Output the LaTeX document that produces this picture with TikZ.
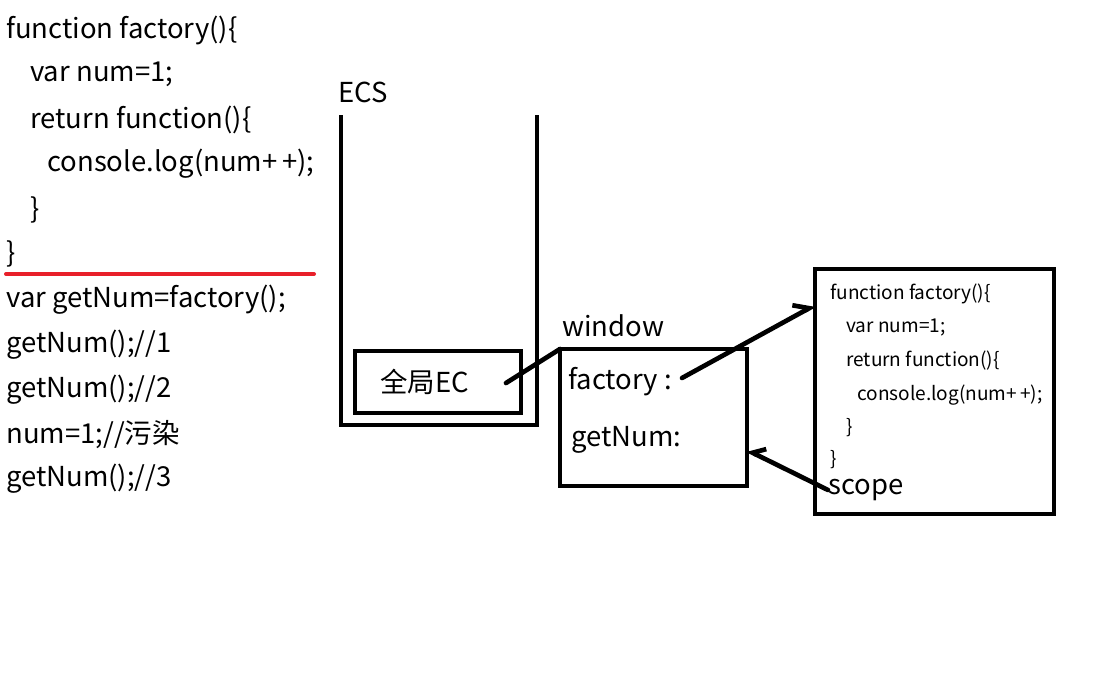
\documentclass[tikz,border=0pt]{standalone}
\usepackage{fontspec}
\setmainfont{Noto Sans CJK SC}
\usetikzlibrary{arrows.meta}

\definecolor{cutred}{RGB}{232,32,42}

\tikzset{
  code/.style={anchor=west, inner sep=0pt, font=\fontsize{20.6}{24}\selectfont},
  small/.style={anchor=west, inner sep=0pt, font=\fontsize{14.3}{16}\selectfont},
  box/.style={draw, line width=3.5pt, anchor=north west, inner sep=0pt, outer sep=0pt},
  link/.style={line width=3.5pt, line cap=round},
}

\begin{document}
\begin{tikzpicture}[x=0.75pt, y=-0.75pt]
        \useasboundingbox (0,0) rectangle (1102,682);
        % source code on the left
        \node[code] (c1) at (6,30)   {function factory()\{};
        \node[code] (c2) at (30,74)  {var num=1;};
        \node[code] (c3) at (30,120) {return function()\{};
        \node[code] (c4) at (47,164) {console.log(num+\,+);};
        \node[code] (c5) at (30,210) {\}};
        \node[code] (c6) at (6,254)  {\}};
        \draw[cutred, line width=3pt, line cap=round] (6,274) -- (314,274);   % divider
        \node[code] (d1) at (6,300) {var getNum=factory();};
        \node[code] (d2) at (6,345) {getNum();//1};
        \node[code] (d3) at (6,390) {getNum();//2};
        \node[code] (d4) at (6,435) {num=1;//污染};
        \node[code] (d5) at (6,479) {getNum();//3};
        % execution context stack
        \node[code] (ecs) at (338,92) {ECS};
        \draw[line width=3.5pt] (341,115) -- (341,425) -- (537,425) -- (537,115);
        \node[box, minimum width=166*0.75pt, minimum height=62*0.75pt] (ec) at (355,351) {};
        \node[code] (ectxt) at (380,382) {全局EC};
        % window object
        \node[code] (win) at (562,326) {window};
        \node[box, minimum width=187*0.75pt, minimum height=137*0.75pt] (winbox) at (560,349) {};
        \node[code] (fac) at (568,382) {factory :};
        \node[code] (gn) at (571,440) {getNum:};
        % function object
        \node[box, minimum width=239*0.75pt, minimum height=245*0.75pt] (fbox) at (815,269) {};
        \node[small] (f1) at (830,294) {function factory()\{};
        \node[small] (f2) at (846,328) {var num=1;};
        \node[small] (f3) at (846,361) {return function()\{};
        \node[small] (f4) at (857,395) {console.log(num+\,+);};
        \node[small] (f5) at (846,428) {\}};
        \node[small] (f6) at (830,460) {\}};
        \node[code] (scope) at (828,490) {scope};
        % references
        \coordinate (ecend) at (506,383);
        \coordinate (facend) at (682,378);
        \coordinate (fin) at (fbox.north west |- 0,305);
        \coordinate (win_in) at (winbox.north east |- 0,450);
        \draw[link] (ecend) -- (winbox.north west);
        \draw[link, -{Straight Barb[harpoon, length=10pt, width=16pt]}] (facend) -- (fin);
        \draw[link, -{Straight Barb[harpoon, swap, length=8pt, width=14pt]}] (scope.west) -- (win_in);
      \end{tikzpicture}
\end{document}
